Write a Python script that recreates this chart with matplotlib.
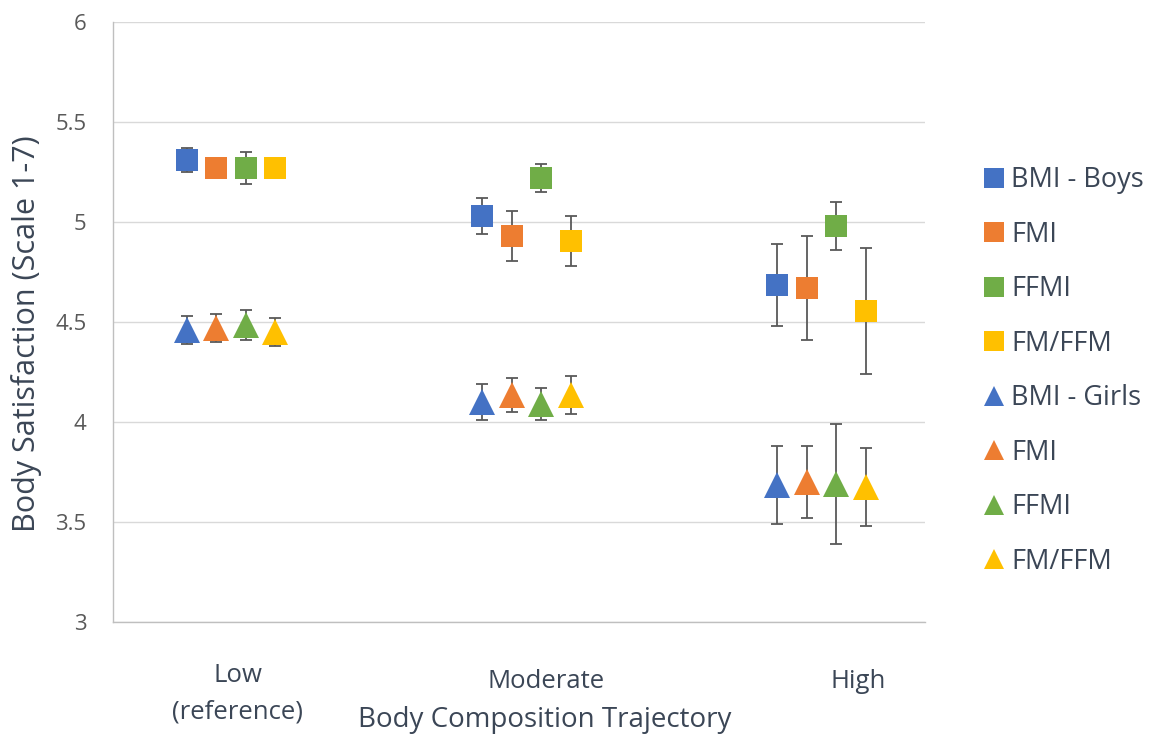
import matplotlib
matplotlib.use("Agg")
import matplotlib.pyplot as plt
from matplotlib.lines import Line2D
import numpy as np

plt.rcParams['font.family'] = ['Open Sans', 'DejaVu Sans']

# ---- data ----
categories = ["Low\n(reference)", "Moderate", "High"]
series_names = ["BMI - Boys", "FMI", "FFMI", "FM/FFM", "BMI - Girls", "FMI", "FFMI", "FM/FFM"]

boys_bmi = [5.31, 5.03, 4.685]
boys_fmi = [5.27, 4.93, 4.67]
boys_ffmi = [5.27, 5.22, 4.98]
boys_fmffm = [5.27, 4.905, 4.555]
girls_bmi = [4.46, 4.10, 3.685]
girls_fmi = [4.47, 4.135, 3.70]
girls_ffmi = [4.485, 4.09, 3.69]
girls_fmffm = [4.45, 4.135, 3.675]

boys_bmi_err = [0.06, 0.09, 0.205]
boys_fmi_err = [0.04, 0.125, 0.26]
boys_ffmi_err = [0.08, 0.07, 0.12]
boys_fmffm_err = [0.04, 0.125, 0.315]
girls_bmi_err = [0.07, 0.09, 0.195]
girls_fmi_err = [0.07, 0.085, 0.18]
girls_ffmi_err = [0.075, 0.08, 0.30]
girls_fmffm_err = [0.07, 0.095, 0.195]

values = [boys_bmi, boys_fmi, boys_ffmi, boys_fmffm, girls_bmi, girls_fmi, girls_ffmi, girls_fmffm]
errors = [boys_bmi_err, boys_fmi_err, boys_ffmi_err, boys_fmffm_err,
          girls_bmi_err, girls_fmi_err, girls_ffmi_err, girls_fmffm_err]

colors = ["#4472C4", "#ED7D31", "#70AD47", "#FFC000"] * 2
markers = ["s"] * 4 + ["^"] * 4
offsets = [-0.15, -0.05, 0.05, 0.15] * 2

W, H = 1155, 737
fig = plt.figure(figsize=(W / 100, H / 100), dpi=100)
ax = fig.add_axes([113 / W, 1 - 622 / H, (925 - 113) / W, (622 - 22) / H])

base = np.arange(1, len(categories) + 1)
for vals, errs, c, m, off in zip(values, errors, colors, markers, offsets):
    x = base + off
    ax.errorbar(x, vals, yerr=errs, fmt='none', ecolor='#595959', elinewidth=1.3,
                capsize=4.3, capthick=1.3, zorder=2)
    ms = 16.5 if m == 's' else 19
    ax.plot(x, vals, linestyle='none', marker=m, markersize=ms, color=c,
            markeredgewidth=0, zorder=3)

ax.set_xlim(0.6, 3.35)
ax.set_ylim(3, 6)
ax.set_yticks([3, 3.5, 4, 4.5, 5, 5.5, 6])
ax.set_yticklabels(["3", "3.5", "4", "4.5", "5", "5.5", "6"])
ax.set_xticks([])
ax.grid(axis='y', color='#D9D9D9', linewidth=1.0, zorder=0)
ax.set_axisbelow(True)
for s in ['top', 'right']:
    ax.spines[s].set_visible(False)
for s in ['left', 'bottom']:
    ax.spines[s].set_color('#BFBFBF')
    ax.spines[s].set_linewidth(1.0)
ax.tick_params(axis='y', length=0, pad=19, labelsize=16, labelcolor='#595959')

txtc = '#3B4656'
catfs = 18.5
# category labels
fig.text(238 / W, 1 - 676 / H, "Low", ha='center', va='center', fontsize=catfs, color=txtc)
fig.text(237 / W, 1 - 712 / H, "(reference)", ha='center', va='center', fontsize=catfs, color=txtc)
fig.text(546 / W, 1 - 681 / H, categories[1], ha='center', va='center', fontsize=catfs, color=txtc)
fig.text(858 / W, 1 - 681 / H, categories[2], ha='center', va='center', fontsize=catfs, color=txtc)
fig.text(545 / W, 1 - 720 / H, "Body Composition Trajectory", ha='center', va='center',
         fontsize=20, color=txtc)
fig.text(27 / W, 1 - 334 / H, "Body Satisfaction (Scale 1-7)", ha='center', va='center',
         rotation=90, fontsize=22, color=txtc)

handles = []
for name, c, m in zip(series_names, colors, markers):
    handles.append(Line2D([], [], linestyle='none', marker=m, color=c,
                          markersize=14 if m == 's' else 15, markeredgewidth=0, label=name))
leg = fig.legend(handles=handles, loc='upper left', bbox_to_anchor=(983 / W, 1 - 166 / H),
                 frameon=False, fontsize=19.5, labelspacing=0.98, handlelength=0.8,
                 handletextpad=0.25, borderaxespad=0, borderpad=0)
for t in leg.get_texts():
    t.set_color(txtc)

fig.savefig("out.png", dpi=100)
